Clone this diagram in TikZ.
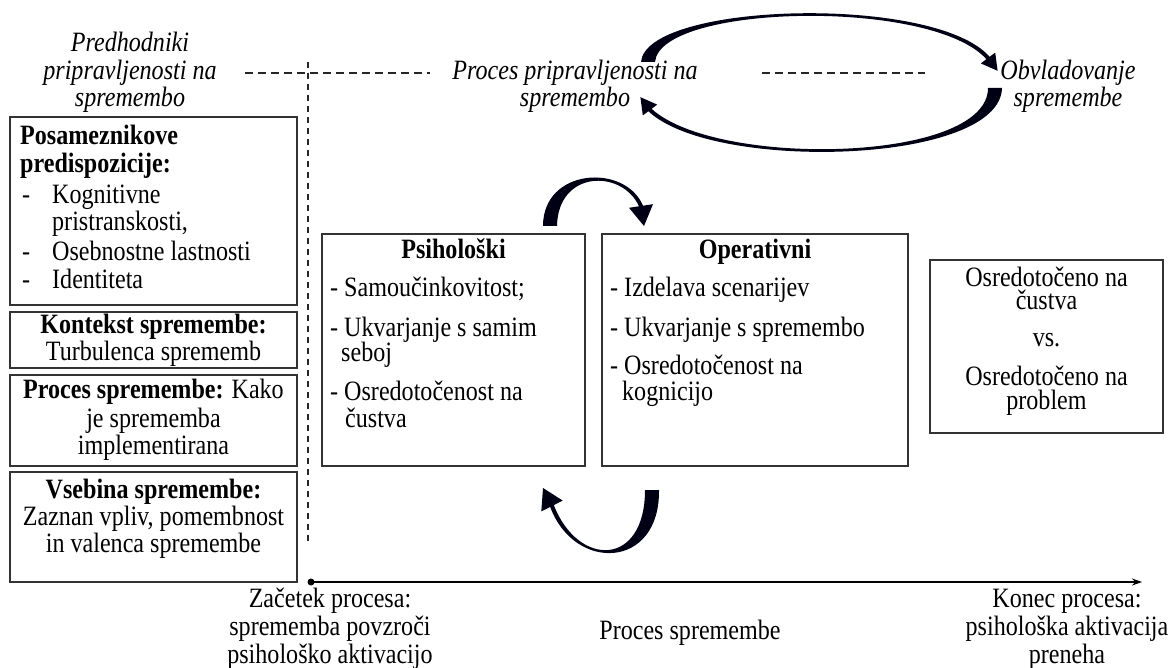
\documentclass[tikz,border=0pt]{standalone}
\usepackage{fontspec}
\setmainfont{Liberation Serif}[FakeStretch=0.86]
\usetikzlibrary{arrows.meta}
\begin{document}
\begin{tikzpicture}[x=1pt,y=-1pt,
  txt/.style={inner sep=0pt, font=\fontsize{28}{27.6}\selectfont},
  bftxt/.style={txt, font=\fontsize{28}{27.6}\selectfont\bfseries},
  tight/.style={txt, align=center, font=\fontsize{28}{#1}\selectfont},
  ttl/.style={txt, font=\fontsize{28}{27.6}\selectfont\itshape, align=center},
  frame/.style={draw=black!80, line width=1.1pt, inner sep=0pt},
  dashln/.style={line width=1.2pt, black!85, dash pattern=on 8pt off 5pt},
  vdash/.style={line width=1.1pt, black!85, dash pattern=on 6pt off 5pt},
  swoosh/.style={fill=black!92!blue}]
\useasboundingbox (0,0) rectangle (1173,668);

% ---- headings (base anchor sits on the last line) ----
\node[ttl, anchor=base] (tPre) at (130,107) {Predhodniki\\pripravljenosti na\\spremembo};
\node[ttl, anchor=base] (tProc) at (575,107) {Proces pripravljenosti na\\spremembo};
\node[ttl, anchor=base] (tObv) at (1068,107) {Obvladovanje\\spremembe};

% dashed guides
\coordinate (dl0) at (245,73);
\coordinate (dl1) at (430,73);
\coordinate (dr0) at (762,73);
\coordinate (dr1) at (925,73);
\coordinate (dv0) at (308,62);
\coordinate (dv1) at (308,545);
\draw[dashln] (dl0) -- (dl1);
\draw[dashln] (dr0) -- (dr1);
\draw[vdash] (dv0) -- (dv1);

% ---- cycle between the two headings ----
\fill[swoosh] (641,62) .. controls (646,2) and (935,-6) .. (989.6,56.8)
  -- (995.2,52.6) -- (997.6,70.8) -- (980.8,63.4) -- (986.4,59.2)
  .. controls (932,-2) and (660,4) .. (655,62) -- cycle;
\fill[swoosh] (1002,88) .. controls (1000,165) and (712,172) .. (648.4,111.2)
  -- (642.8,115.4) -- (640.4,97.2) -- (657.2,104.6) -- (651.6,108.8)
  .. controls (716,168) and (988,163) .. (988,88) -- cycle;

% ---- left column boxes ----
\node[frame, minimum width=287pt, minimum height=188pt] (bPre) at (153.5,211) {};
\node[frame, minimum width=287pt, minimum height=56pt] (bKon) at (153.5,340) {};
\node[frame, minimum width=287pt, minimum height=91pt] (bPro) at (153.5,420.5) {};
\node[frame, minimum width=287pt, minimum height=110pt] (bVse) at (153.5,527) {};

\node[bftxt, anchor=base west] (p1) at (20,145) {Posameznikove};
\node[bftxt, anchor=base west] (p2) at (20,173) {predispozicije:};
\node[txt, anchor=base west] (p3d) at (22,204) {-};
\node[txt, anchor=base west] (p3) at (52,204) {Kognitivne};
\node[txt, anchor=base west] (p4) at (52,231) {pristranskosti,};
\node[txt, anchor=base west] (p5d) at (22,261) {-};
\node[txt, anchor=base west] (p5) at (52,261) {Osebnostne lastnosti};
\node[txt, anchor=base west] (p6d) at (22,289) {-};
\node[txt, anchor=base west] (p6) at (52,289) {Identiteta};

\node[tight=24, anchor=base] (k1) at (153.5,360) {\textbf{Kontekst spremembe:}\\Turbulenca sprememb};

\node[txt, anchor=base] (r1) at (153.5,399) {\textbf{Proces spremembe:} Kako};
\node[txt, anchor=base] (r2) at (153.5,427) {je sprememba};
\node[txt, anchor=base] (r3) at (153.5,454) {implementirana};

\node[txt, anchor=base] (v1) at (153.5,498) {\textbf{Vsebina spremembe:}};
\node[txt, anchor=base] (v2) at (153.5,525) {Zaznan vpliv, pomembnost};
\node[txt, anchor=base] (v3) at (153.5,552) {in valenca spremembe};

% ---- coping boxes ----
\node[frame, minimum width=263pt, minimum height=232pt] (bPsi) at (453.5,350) {};
\node[frame, minimum width=306pt, minimum height=232pt] (bOpe) at (755,350) {};

\node[txt, anchor=base] (s0) at (453.5,259) {\textbf{Psihološki}};
\node[txt, anchor=base west] (s1) at (330,297) {- Samoučinkovitost;};
\node[txt, anchor=base west] (s2) at (330,337) {- Ukvarjanje s samim};
\node[txt, anchor=base west] (s3) at (341,362) {seboj};
\node[txt, anchor=base west] (s4) at (330,400) {- Osredotočenost na};
\node[txt, anchor=base west] (s5) at (345,427) {čustva};

\node[txt, anchor=base] (o0) at (755,259) {\textbf{Operativni}};
\node[txt, anchor=base west] (o1) at (610,297) {- Izdelava scenarijev};
\node[txt, anchor=base west] (o2) at (610,337) {- Ukvarjanje s spremembo};
\node[txt, anchor=base west] (o3) at (610,374) {- Osredotočenost na};
\node[txt, anchor=base west] (o4) at (622,400) {kognicijo};

% circular arrows between the coping boxes
\fill[swoosh] (543,226) .. controls (543,168) and (625,163) .. (643,205.7)
  -- (653,204.2) -- (644,226) -- (629,207.8) -- (639,206.3)
  .. controls (622,169) and (558,170) .. (557,226) -- cycle;
\fill[swoosh] (659,490) .. controls (660,570) and (574,572) .. (550.2,506.9)
  -- (541.3,511.4) -- (543,488) -- (562.7,500.6) -- (553.8,505.1)
  .. controls (578,567.5) and (645,567.5) .. (645,490) -- cycle;

% ---- outcome box ----
\node[frame, minimum width=233pt, minimum height=173pt] (bOut) at (1046.5,346.5) {};
\node[tight=23, anchor=base] (u1) at (1046.5,310) {Osredotočeno na\\čustva};
\node[txt, anchor=base] (u3) at (1046.5,347) {vs.};
\node[tight=24, anchor=base] (u4) at (1046.5,409) {Osredotočeno na\\problem};

% ---- time line ----
\coordinate (tl0) at (311,582);
\coordinate (tl1) at (1142,582);
\draw[line width=1.8pt, -{Stealth[length=10pt,width=7pt]}] (tl0) -- (tl1);
\fill (tl0) circle (3.5);

\node[txt, anchor=base, align=center] (z1) at (330,663) {Začetek procesa:\\sprememba povzroči\\psihološko aktivacijo};
\node[txt, anchor=base] (z2) at (690,639) {Proces spremembe};
\node[txt, anchor=base, align=center] (z3) at (1067,663) {Konec procesa:\\psihološka aktivacija\\preneha};
\end{tikzpicture}
\end{document}
